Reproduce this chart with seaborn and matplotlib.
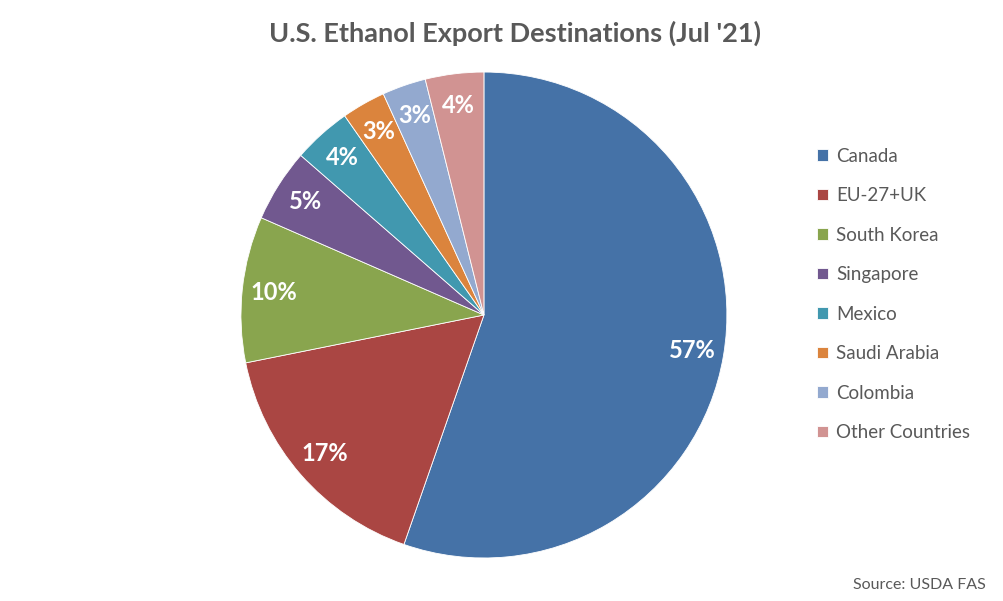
import matplotlib
matplotlib.use("Agg")
import matplotlib.pyplot as plt
import seaborn as sns

# data
destinations = ["Canada", "EU-27+UK", "South Korea", "Singapore", "Mexico",
                "Saudi Arabia", "Colombia", "Other Countries"]
shares = [57, 17, 10, 5, 4, 3, 3, 4]
colors = ["#4572A7", "#AA4643", "#89A54E", "#71588F", "#4198AF",
          "#DB843D", "#93A9CF", "#D19392"]

sns.set_style("white")
plt.rcParams["font.family"] = ["Lato", "DejaVu Sans"]
palette = sns.color_palette(colors)

fig = plt.figure(figsize=(10.04, 6.01), dpi=100)
ax = fig.add_axes([0.240, 0.0715, 0.484, 0.8087])

wedges, texts = ax.pie(
    shares,
    colors=palette,
    startangle=90,
    counterclock=False,
    labels=[f"{s}%" for s in shares],
    labeldistance=0.87,
    wedgeprops=dict(edgecolor="white", linewidth=0.6),
    textprops=dict(color="white", fontsize=17, fontweight="bold"),
)
for t in texts:
    t.set_horizontalalignment("center")
    t.set_verticalalignment("center")
ax.set_xlim(-1, 1)
ax.set_ylim(-1, 1)
ax.set_aspect("equal")
ax.axis("off")

fig.text(0.513, 0.945, "U.S. Ethanol Export Destinations (Jul '21)",
         ha="center", va="center", fontsize=19.5, fontweight="bold", color="#595959")

leg = fig.legend(wedges, destinations, loc="upper left",
                 bbox_to_anchor=(0.804, 0.77), frameon=False,
                 fontsize=13.5, handlelength=0.6, handleheight=0.6,
                 handletextpad=0.45, labelspacing=1.2, borderpad=0)
for t in leg.get_texts():
    t.set_color("#595959")

fig.text(0.982, 0.027, "Source: USDA FAS", ha="right", va="center",
         fontsize=11.5, color="#595959")

fig.savefig("out.png", dpi=100)
